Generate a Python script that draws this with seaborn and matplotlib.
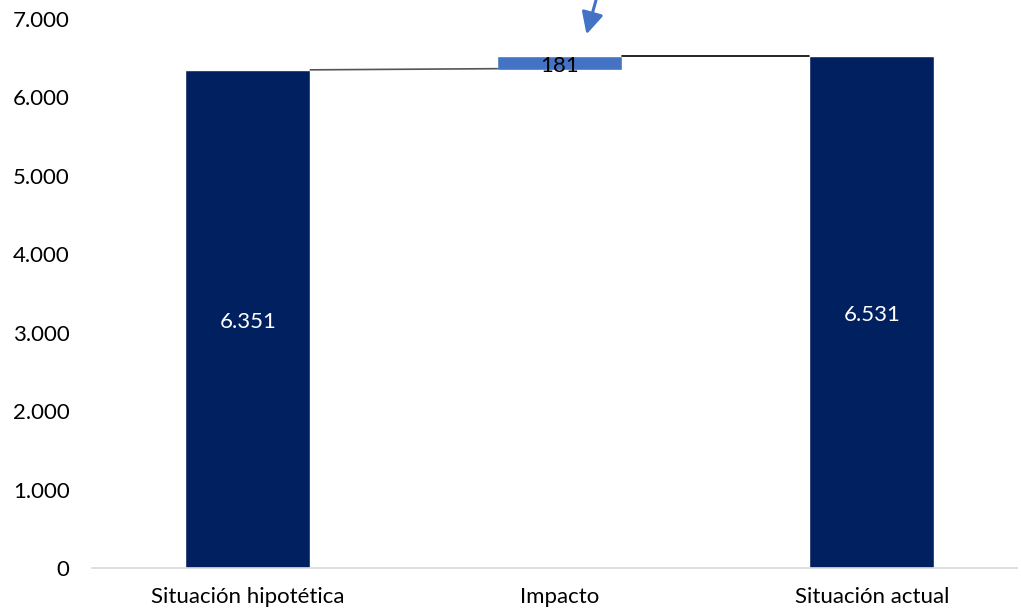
import matplotlib
matplotlib.use("Agg")
import matplotlib.pyplot as plt
import seaborn as sns
import pandas as pd

# chart data
categories = ["Situación hipotética", "Impacto", "Situación actual"]
bar_bases = [0, 6351, 0]
bar_tops = [6351, 6531, 6531]
bar_labels = ["6.351", "181", "6.531"]
y_ticks = [0, 1000, 2000, 3000, 4000, 5000, 6000, 7000]

navy = "#002060"
blue = "#4472C4"


def fmt_thousands(v):
    return f"{int(v):,}".replace(",", ".")


def main():
    sns.set_theme(style="white")
    plt.rcParams["font.family"] = ["Lato", "DejaVu Sans"]

    df = pd.DataFrame({"cat": categories, "top": bar_tops})

    fig = plt.figure(figsize=(10.21, 6.11), dpi=100)
    ax = fig.add_axes([0.090, 0.0704, 0.906, 0.8986])

    sns.barplot(data=df, x="cat", y="top", hue="cat", palette=[navy, blue, navy],
                width=0.4, legend=False, ax=ax, saturation=1)

    # turn the middle bar into a floating waterfall step
    for patch, base, top in zip(ax.patches, bar_bases, bar_tops):
        patch.set_y(base)
        patch.set_height(top - base)

    p = ax.patches
    # connector lines
    ax.plot([p[0].get_x() + p[0].get_width(), p[1].get_x()],
            [bar_tops[0], bar_bases[1] + 15], color="#555555", lw=1.2)
    ax.plot([p[1].get_x() + p[1].get_width(), p[2].get_x()],
            [bar_tops[1], bar_tops[2]], color="black", lw=1.2)

    # value labels
    for i, (patch, base, top) in enumerate(zip(p, bar_bases, bar_tops)):
        cx = patch.get_x() + patch.get_width() / 2
        color = "white" if i != 1 else "black"
        ax.text(cx, (base + top) / 2 - 35, bar_labels[i], ha="center", va="center",
                fontsize=16, color=color)

    # arrow pointing at the impact bar
    ax.annotate("", xy=(1.083, 6770), xytext=(1.118, 7270),
                arrowprops=dict(arrowstyle="-|>,head_length=1.1,head_width=0.55",
                                color=blue, lw=2.2),
                annotation_clip=False)

    ax.set_xlim(-0.5, 2.465)
    ax.set_ylim(0, 7000)
    ax.set_yticks(y_ticks)
    ax.set_yticklabels([fmt_thousands(v) for v in y_ticks])
    ax.set_xlabel("")
    ax.set_ylabel("")

    for side in ["top", "right", "left"]:
        ax.spines[side].set_visible(False)
    ax.spines["bottom"].set_color("#D9D9D9")
    ax.spines["bottom"].set_linewidth(1.2)

    ax.tick_params(axis="y", length=0, pad=16, labelsize=16, labelcolor="black")
    ax.tick_params(axis="x", length=0, pad=14, labelsize=16, labelcolor="black")

    fig.savefig("out.png", dpi=100)


if __name__ == "__main__":
    main()
